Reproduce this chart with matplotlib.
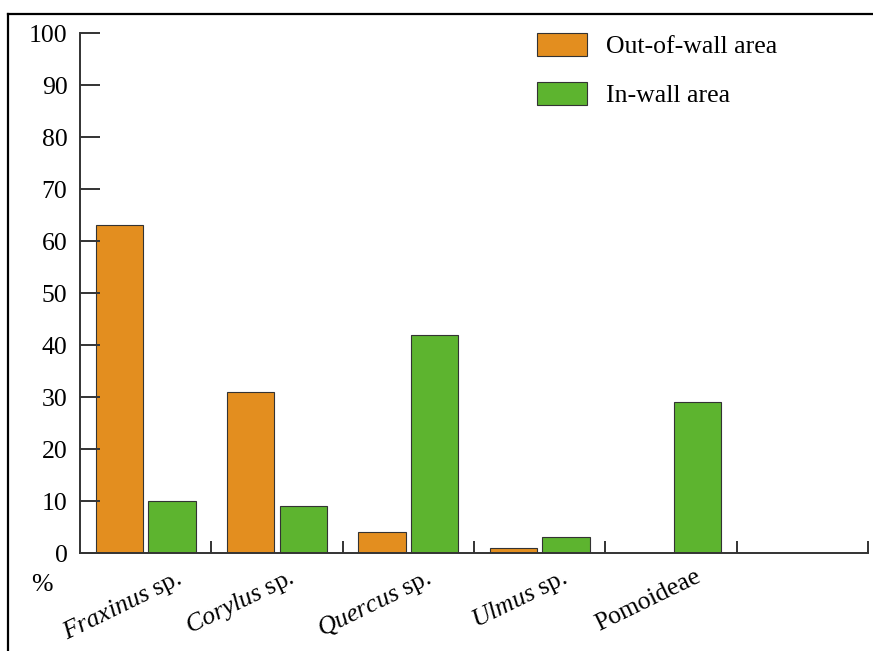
import matplotlib
matplotlib.use("Agg")
import matplotlib.pyplot as plt
from matplotlib.lines import Line2D
from matplotlib.patches import Patch
import numpy as np

plt.rcParams["font.family"] = ["Liberation Serif", "DejaVu Serif"]
plt.rcParams["mathtext.fontset"] = "custom"
plt.rcParams["mathtext.rm"] = "Liberation Serif"
plt.rcParams["mathtext.it"] = "Liberation Serif:italic"

TAXA = [r"$\it{Fraxinus}$ sp.", r"$\it{Corylus}$ sp.", r"$\it{Quercus}$ sp.",
        r"$\it{Ulmus}$ sp.", "Pomoideae"]
OUT_WALL = [63, 31, 4, 1, 0]
IN_WALL = [10, 9, 42, 3, 29]
SERIES = ["Out-of-wall area", "In-wall area"]
YTICKS = list(range(0, 101, 10))

# where each rotated label ends (right anchor), relative to group start
LABEL_END = [0.72, 0.58, 0.62, 0.66, 0.68]

ORANGE = "#E38E1F"
GREEN = "#5DB42F"
EDGE = "#333333"
FS = 18.5

fig = plt.figure(figsize=(8.73, 6.51), dpi=100)
ax = fig.add_axes([0.0916, 0.1505, 0.9026, 0.7988])

x = np.arange(len(TAXA))
w = 0.36
ax.bar(x + 0.30, OUT_WALL, width=w, color=ORANGE, edgecolor=EDGE, linewidth=0.8)
ax.bar(x + 0.70, IN_WALL, width=w, color=GREEN, edgecolor=EDGE, linewidth=0.8)

ax.set_xlim(0, 6)
ax.set_ylim(0, 100)
for s in ("top", "right"):
    ax.spines[s].set_visible(False)
for s in ("left", "bottom"):
    ax.spines[s].set_linewidth(1.4)
    ax.spines[s].set_color(EDGE)

ax.set_yticks(YTICKS)
ax.tick_params(axis="y", direction="in", length=14.5, width=1.4, color=EDGE,
               labelsize=FS, pad=9)
ax.set_xticks(range(1, 7))
ax.set_xticklabels([])
ax.tick_params(axis="x", direction="in", length=9, width=1.4, color=EDGE)

for i, lab in enumerate(TAXA):
    ax.text(i + LABEL_END[i], -2.4, lab, rotation=26, ha="right", va="top",
            rotation_mode="anchor", fontsize=FS, clip_on=False)

ax.text(-0.29, -6.2, "%", fontsize=FS, ha="center", va="center", clip_on=False)

handles = [Patch(facecolor=ORANGE, edgecolor=EDGE, linewidth=0.8),
           Patch(facecolor=GREEN, edgecolor=EDGE, linewidth=0.8)]
fig.legend(handles, SERIES, loc="upper left", bbox_to_anchor=(0.615, 0.949),
           frameon=False, fontsize=FS, handlelength=1.95, handleheight=1.0,
           labelspacing=0.92, handletextpad=0.75, borderpad=0, borderaxespad=0)

# figure frame (top and left edges only, as in the cropped original)
fig.add_artist(Line2D([8 / 873, 1], [1 - 14 / 651, 1 - 14 / 651],
                      transform=fig.transFigure, color="black", linewidth=1.6))
fig.add_artist(Line2D([8 / 873, 8 / 873], [0, 1 - 14 / 651],
                      transform=fig.transFigure, color="black", linewidth=1.6))

fig.savefig("out.png", dpi=100)
